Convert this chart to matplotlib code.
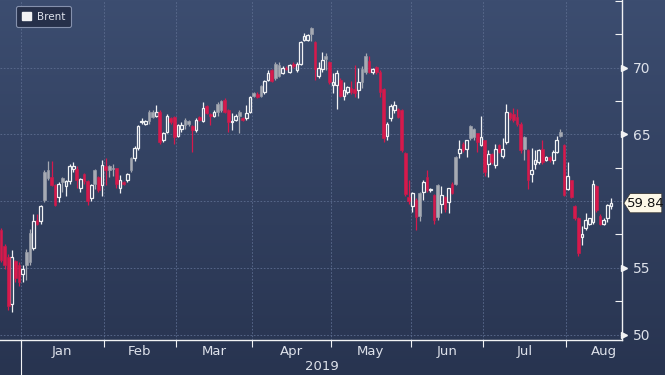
import numpy as np
import pandas as pd
import matplotlib
matplotlib.use("Agg")
import matplotlib.pyplot as plt
from matplotlib.patches import Patch, Polygon
from matplotlib.ticker import MultipleLocator, FixedLocator, NullFormatter, FuncFormatter

plt.rcParams['font.family'] = ['Liberation Sans Narrow', 'DejaVu Sans Condensed', 'DejaVu Sans']

# trading days on the chart
dates = pd.bdate_range("2018-12-21", "2019-08-19")
dates = dates[~dates.isin(pd.to_datetime(["2018-12-25", "2019-05-27"]))]

# Brent daily candles
opens = [57.8, 56.6, 55.8, 52.3, 55.5, 55.2, 54.5, 56.2, 57.6, 56.5,
         58.6, 58.5, 62.2, 62.3, 61.8, 61.2, 60.3, 61.7, 61.1, 61.5,
         62.4, 62.4, 61.0, 62.0, 61.5, 60.2, 62.3, 61.8, 61.2, 62.6,
         62.6, 62.5, 62.45, 60.95, 61.45, 61.57, 63.2, 63.2, 63.95, 65.9,
         65.8, 66.7, 66.7, 66.4, 66.7, 64.6, 65.2, 66.2, 66.3, 64.9,
         65.4, 66.1, 66.0, 65.6, 65.3, 66.3, 66.0, 67.1, 66.5, 66.4,
         67.3, 67.5, 67.56, 66.8, 65.95, 66.1, 66.7, 66.2, 66.2, 66.7,
         68.06, 68.0, 68.6, 68.2, 69.1, 69.8, 70.3, 70.2, 69.6, 70.0,
         69.7, 70.3, 69.8, 70.3, 72.1, 72.1, 72.95, 71.9, 69.4, 69.9,
         70.9, 70.4, 68.7, 68.7, 69.06, 67.9, 68.2, 68.5, 68.4, 68.3,
         69.9, 70.9, 70.5, 69.65, 70.05, 69.7, 68.4, 64.9, 66.2, 66.8,
         66.9, 66.8, 63.6, 60.3, 59.6, 60.1, 60.6, 60.7, 61.8, 60.8,
         60.45, 61.2, 59.8, 60.3, 59.95, 61.3, 63.3, 63.6, 64.3, 63.9,
         65.6, 65.4, 65.06, 64.2, 64.56, 62.8, 63.56, 62.7, 64.2, 63.4,
         64.4, 66.56, 66.55, 66.3, 65.8, 64.8, 63.8, 62.06, 62.8, 62.9,
         63.9, 63.1, 63.3, 63.06, 63.7, 65.2, 64.2, 60.9, 61.56, 59.6,
         58.7, 57.3, 57.95, 58.3, 58.45, 61.1, 58.9, 58.3, 58.7, 59.6]
highs = [58.0, 56.8, 56.0, 56.3, 55.6, 55.4, 55.2, 56.4, 57.9, 59.0,
         59.0, 59.7, 62.3, 63.0, 63.0, 61.3, 61.4, 61.8, 61.6, 62.8,
         62.9, 62.6, 61.7, 62.1, 61.6, 61.3, 62.4, 61.9, 63.1, 63.2,
         62.7, 62.8, 62.5, 61.95, 61.5, 62.1, 63.3, 64.1, 65.7, 66.2,
         66.1, 66.8, 66.8, 67.2, 66.8, 65.2, 66.5, 66.3, 66.4, 65.8,
         65.9, 66.2, 66.1, 65.7, 66.2, 66.4, 67.4, 67.2, 66.6, 66.8,
         67.4, 67.6, 67.7, 66.9, 66.6, 66.5, 66.8, 66.3, 67.2, 67.9,
         68.2, 68.2, 68.7, 69.1, 69.8, 69.9, 70.4, 70.4, 70.1, 70.1,
         70.3, 70.4, 70.4, 72.0, 72.6, 72.5, 73.0, 72.0, 70.4, 71.2,
         71.1, 70.5, 69.6, 69.8, 69.2, 68.9, 68.6, 69.0, 70.2, 70.0,
         70.1, 71.1, 70.9, 70.0, 70.1, 69.8, 68.5, 65.9, 67.3, 67.5,
         67.0, 66.9, 63.7, 61.6, 60.7, 60.2, 60.7, 61.6, 62.3, 61.0,
         60.5, 61.3, 61.1, 60.4, 61.0, 61.4, 63.4, 64.6, 64.4, 64.6,
         65.7, 65.5, 65.1, 66.4, 64.6, 63.8, 63.6, 64.3, 64.3, 64.7,
         67.3, 66.7, 67.0, 66.9, 65.9, 64.9, 63.9, 64.0, 63.8, 63.9,
         64.6, 63.4, 63.4, 63.8, 64.9, 65.4, 64.3, 62.9, 61.6, 59.7,
         58.8, 58.1, 59.1, 58.7, 61.56, 61.2, 59.0, 58.7, 59.8, 60.2]
lows = [55.4, 54.9, 51.8, 51.7, 53.9, 53.6, 53.9, 54.1, 55.2, 56.3,
        58.2, 58.3, 59.9, 61.6, 61.1, 59.6, 59.9, 60.7, 60.4, 61.3,
        62.2, 61.0, 60.7, 61.3, 59.7, 60.0, 60.9, 60.7, 60.4, 61.2,
        61.8, 61.9, 60.95, 60.6, 61.2, 61.4, 62.2, 63.0, 63.8, 65.8,
        65.7, 65.8, 66.2, 66.3, 64.3, 64.4, 65.1, 65.8, 64.3, 64.8,
        65.2, 65.4, 65.6, 63.7, 65.2, 66.0, 65.9, 66.5, 65.7, 66.3,
        66.4, 66.7, 66.6, 65.2, 65.3, 66.0, 65.1, 66.0, 66.1, 66.6,
        67.8, 67.7, 67.8, 68.0, 69.0, 68.9, 69.1, 69.3, 69.5, 69.8,
        69.6, 70.0, 69.7, 70.2, 72.0, 72.0, 72.0, 69.1, 69.2, 69.7,
        69.8, 68.8, 68.1, 66.9, 67.8, 67.6, 68.0, 68.0, 67.8, 67.7,
        68.5, 69.5, 69.6, 69.5, 69.5, 67.8, 64.4, 64.6, 66.0, 66.6,
        66.2, 63.7, 60.4, 59.8, 59.2, 57.8, 58.5, 60.1, 60.7, 60.7,
        58.3, 58.6, 59.1, 59.2, 59.1, 60.5, 61.2, 63.2, 63.7, 63.3,
        64.6, 64.6, 63.7, 64.1, 61.9, 61.8, 62.8, 62.5, 63.6, 63.2,
        64.3, 66.1, 65.9, 65.6, 63.6, 63.1, 60.9, 61.4, 62.4, 62.8,
        62.8, 63.0, 62.9, 62.8, 63.6, 64.8, 60.4, 60.8, 60.2, 58.6,
        55.9, 56.7, 57.8, 58.2, 58.3, 59.2, 58.2, 58.2, 58.4, 59.4]
closes = [55.6, 55.2, 52.1, 55.8, 54.2, 53.9, 54.9, 55.2, 55.4, 58.5,
          58.3, 59.6, 60.1, 61.7, 61.2, 59.7, 61.3, 61.4, 61.5, 62.6,
          62.65, 61.6, 61.65, 61.5, 60.0, 61.2, 61.3, 60.8, 62.7, 62.3,
          62.35, 62.4, 61.3, 61.6, 61.25, 62.0, 62.3, 63.95, 65.6, 66.0,
          66.0, 66.0, 66.3, 66.7, 64.4, 65.1, 66.4, 65.9, 64.8, 65.7,
          65.7, 65.7, 65.75, 65.3, 66.1, 66.05, 67.0, 66.6, 66.4, 66.7,
          66.7, 66.8, 66.7, 65.9, 66.0, 66.4, 66.4, 66.1, 66.6, 67.8,
          67.85, 67.8, 67.85, 69.0, 69.6, 69.0, 69.2, 69.4, 70.0, 69.9,
          70.2, 70.1, 70.3, 71.9, 72.4, 72.45, 72.5, 69.9, 69.95, 70.6,
          70.65, 68.9, 68.95, 69.6, 67.9, 68.3, 68.55, 68.2, 68.1, 68.9,
          68.95, 69.7, 69.65, 69.9, 69.7, 68.2, 64.7, 65.8, 67.1, 67.2,
          66.3, 63.8, 60.5, 60.0, 60.6, 58.8, 58.85, 61.4, 60.8, 60.9,
          58.6, 58.8, 60.45, 59.4, 60.95, 60.6, 61.3, 63.9, 63.8, 64.56,
          64.7, 64.8, 64.4, 64.8, 62.2, 63.5, 62.9, 63.9, 63.7, 63.9,
          66.7, 66.2, 66.1, 65.8, 63.8, 63.9, 61.6, 62.3, 63.06, 63.8,
          62.9, 63.3, 63.05, 63.7, 64.56, 64.9, 60.45, 61.9, 60.3, 58.7,
          56.1, 57.5, 58.55, 58.7, 61.3, 59.3, 58.3, 58.6, 59.7, 59.84]
last_price = 59.84
price_ticks = [50, 55, 60, 65, 70]

WHITE = "#f1f2f4"
GRAY = "#a6aab3"
RED = "#d7194c"
TXT = "#dde1ea"

o = np.array(opens)
h = np.array(highs)
l = np.array(lows)
c = np.array(closes)
x = np.arange(len(c))

# colour by change from previous close, fill when close < open
prev = np.r_[o[0], c[:-1]]
up = c >= prev
filled = c < o

fig = plt.figure(figsize=(6.65, 3.75), dpi=100)

# gradient background
bg = fig.add_axes([0, 0, 1, 1], zorder=-10)
top = np.array([60, 77, 112]) / 255
bot = np.array([40, 52, 80]) / 255
t = np.linspace(0, 1, 256)[:, None]
grad = top + (bot - top) * t
bg.imshow(grad[:, None, :], aspect="auto", extent=[0, 1, 0, 1])
bg.axis("off")

ax = fig.add_axes([0, 35 / 375, 622 / 665, 340 / 375])
ax.set_facecolor("none")

body_lo = np.minimum(o, c)
body_hi = np.maximum(o, c)
body_h = np.maximum(body_hi - body_lo, 0.07)
wick_col = np.where(up, np.where(filled, GRAY, WHITE), RED)

ax.vlines(x, l, body_lo, colors=wick_col, lw=0.9, zorder=3)
ax.vlines(x, body_lo + body_h, h, colors=wick_col, lw=0.9, zorder=3)

w = 0.74
m = up & ~filled
ax.bar(x[m], body_h[m], bottom=body_lo[m], width=w, facecolor="none",
       edgecolor=WHITE, linewidth=0.9, zorder=4)
m = up & filled
ax.bar(x[m], body_h[m], bottom=body_lo[m], width=w, facecolor=GRAY,
       edgecolor=GRAY, linewidth=0.4, zorder=4)
m = ~up & filled
ax.bar(x[m], body_h[m], bottom=body_lo[m], width=w, facecolor=RED,
       edgecolor=RED, linewidth=0.4, zorder=4)
m = ~up & ~filled
ax.bar(x[m], body_h[m], bottom=body_lo[m], width=w, facecolor="none",
       edgecolor=RED, linewidth=0.9, zorder=4)

# axes limits
ax.set_xlim(-1 / 3.609, 621 / 3.609)
ax.set_ylim(49.59, 75.06)

# month boundaries
months = pd.Series(x, index=dates).groupby(dates.to_period("M"))
firsts = months.min()
lasts = months.max()
bounds = (firsts.values[1:] - 0.5).astype(float)

ax.xaxis.set_major_locator(FixedLocator(bounds))
ax.xaxis.set_major_formatter(NullFormatter())
ax.tick_params(axis="x", which="major", direction="out", length=5,
               color=WHITE, width=0.8)

# price axis on the right; the 60 label sits under the last-price tag
ax.yaxis.tick_right()
ax.yaxis.set_major_locator(FixedLocator(price_ticks))
ax.yaxis.set_major_formatter(FuncFormatter(
    lambda v, p: "" if abs(v - round(last_price)) < 1e-6 else f"{v:.0f}"))
ax.yaxis.set_minor_locator(MultipleLocator(2.5))
ax.tick_params(axis="y", which="major", length=0, pad=8, labelsize=10,
               labelcolor=TXT)
ax.tick_params(axis="y", which="minor", direction="in", length=5,
               color=WHITE, width=0.8)

ax.grid(True, which="major", color="#5d6d90", lw=0.6, ls=(0, (2, 2)))

for s in ["left", "top"]:
    ax.spines[s].set_visible(False)
for s in ["right", "bottom"]:
    ax.spines[s].set_color(WHITE)
    ax.spines[s].set_linewidth(1.0)

# triangle markers for the major price ticks
yt = [v for v in price_ticks if v != round(last_price)]
ax.plot(np.full(len(yt), 1.0035), yt, ls="none", marker=">", ms=4.5,
        color=WHITE, transform=ax.get_yaxis_transform(), clip_on=False,
        zorder=6)

# month and year labels
xr = ax.get_xlim()[1]
per = list(firsts.index)
for i, p in enumerate(per):
    if i == 0:
        continue
    lab = p.strftime("%b")
    if i == len(per) - 1:
        ax.text(xr - 1.4, -0.035, lab, transform=ax.get_xaxis_transform(),
                ha="right", va="center", fontsize=9.5, color=TXT)
    else:
        cx = (firsts.iloc[i] + lasts.iloc[i]) / 2
        ax.text(cx, -0.035, lab, transform=ax.get_xaxis_transform(),
                ha="center", va="center", fontsize=9.5, color=TXT)

ax.text((bounds[0] + xr) / 2, -0.078, "2019", transform=ax.get_xaxis_transform(),
        ha="center", va="center", fontsize=9.5, color=TXT)
ax.plot([bounds[0], bounds[0]], [0, -0.11], color=WHITE, lw=0.8,
        transform=ax.get_xaxis_transform(), clip_on=False)

# last price tag
tr = ax.get_yaxis_transform()
hh = 0.72
tag = Polygon([(1.003, last_price), (1.013, last_price + hh),
               (1.064, last_price + hh), (1.064, last_price - hh),
               (1.013, last_price - hh)], closed=True, transform=tr,
              facecolor="#fdf8e8", edgecolor="#3a3a3a", lw=0.6,
              clip_on=False, zorder=7)
ax.add_patch(tag)
ax.text(1.038, last_price, f"{last_price:.2f}", transform=tr, ha="center",
        va="center", fontsize=9.5, color="#111111", zorder=8)

# legend
leg = ax.legend(handles=[Patch(facecolor=WHITE, edgecolor=WHITE)],
                labels=["Brent"], loc="upper left",
                bbox_to_anchor=(16 / 622, 1 - 6 / 340), borderaxespad=0,
                fontsize=7.5, handlelength=0.9, handleheight=0.9,
                handletextpad=0.6, borderpad=0.55, labelcolor=TXT,
                fancybox=True, framealpha=1)
leg.get_frame().set_facecolor("#26304a")
leg.get_frame().set_edgecolor("#8591ad")
leg.get_frame().set_linewidth(0.8)

fig.savefig("out.png", dpi=100)
